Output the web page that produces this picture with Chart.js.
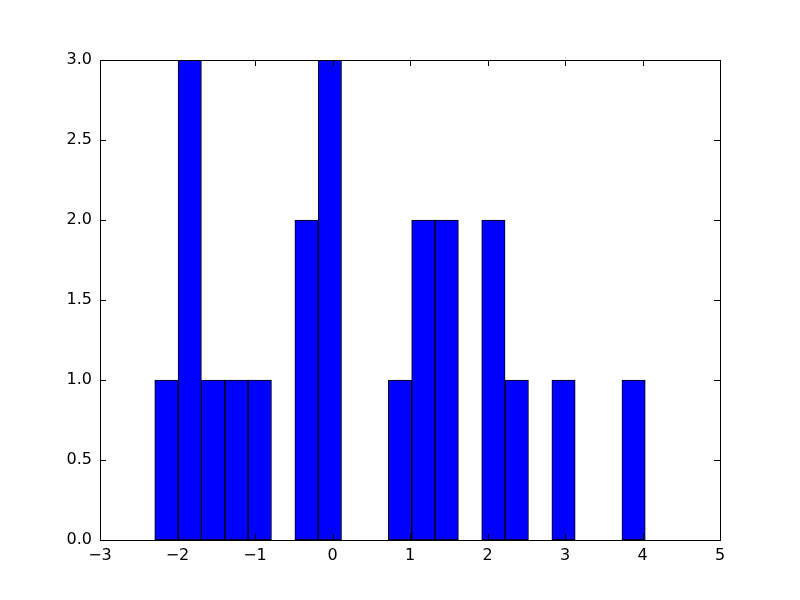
<!DOCTYPE html>
<html>
<head>
<meta charset="utf-8">
<script src="https://cdn.jsdelivr.net/npm/chart.js@4/dist/chart.umd.min.js"></script>
<style>
  html, body { margin: 0; padding: 0; background: #fff; }
  #wrap { width: 800px; height: 600px; }
</style>
</head>
<body>
<div id="wrap"><canvas id="histChart" width="800" height="600"></canvas></div>
<script>
// bin centres, one per histogram bin
const binCenters = [-2.143, -1.842, -1.541, -1.239, -0.938, -0.636, -0.335, -0.034,
  0.268, 0.569, 0.871, 1.172, 1.474, 1.775, 2.076, 2.378, 2.679, 2.981, 3.282, 3.584, 3.885];
const counts = [1, 3, 1, 1, 1, 0, 2, 3, 0, 0, 1, 2, 2, 0, 2, 1, 0, 1, 0, 0, 1];
const xTicks = [-3, -2, -1, 0, 1, 2, 3, 4, 5];
const yTicks = [0, 0.5, 1, 1.5, 2, 2.5, 3];

const FONT = { family: 'DejaVu Sans', size: 16 };

// matplotlib classic: frame + ticks pointing inward on all four sides
const frameTicks = {
    id: 'frameTicks',
    afterDraw(chart) {
        const { ctx, chartArea: a, scales } = chart;
        const len = 6;
        ctx.save();
        ctx.strokeStyle = '#000';
        ctx.lineWidth = 1;
        ctx.beginPath();
        xTicks.forEach(v => {
            const px = Math.round(scales.x.getPixelForValue(v)) + 0.5;
            ctx.moveTo(px, a.bottom); ctx.lineTo(px, a.bottom - len);
            ctx.moveTo(px, a.top); ctx.lineTo(px, a.top + len);
        });
        yTicks.forEach(v => {
            const py = Math.round(scales.y.getPixelForValue(v)) + 0.5;
            ctx.moveTo(a.left, py); ctx.lineTo(a.left + len, py);
            ctx.moveTo(a.right, py); ctx.lineTo(a.right - len, py);
        });
        ctx.stroke();
        ctx.strokeRect(Math.round(a.left) + 0.5, Math.round(a.top) + 0.5,
            Math.round(a.right - a.left), Math.round(a.bottom - a.top));
        ctx.restore();
    }
};

new Chart(document.getElementById('histChart').getContext('2d'), {
    type: 'bar',
    data: {
        datasets: [{
            data: binCenters.map((c, i) => ({ x: c, y: counts[i] })),
            backgroundColor: '#0000ff',
            borderColor: '#000000',
            borderWidth: 1,
            borderSkipped: false,
            barPercentage: 1,
            categoryPercentage: 1
        }]
    },
    options: {
        responsive: false,
        animation: false,
        layout: { padding: { top: 60, right: 80, left: 0, bottom: 0 } },
        plugins: { legend: { display: false }, tooltip: { enabled: false } },
        scales: {
            x: {
                type: 'linear',
                min: -3, max: 5,
                offset: false,
                grid: { display: false, drawTicks: false },
                border: { display: false },
                ticks: {
                    stepSize: 1, color: '#000', font: FONT, padding: 6,
                    maxRotation: 0,
                    callback: v => String(v).replace('-', '\u2212')
                },
                afterFit(s) { s.height = 60; }
            },
            y: {
                min: 0, max: 3,
                grid: { display: false, drawTicks: false },
                border: { display: false },
                ticks: {
                    stepSize: 0.5, color: '#000', font: FONT, padding: 8,
                    callback: v => v.toFixed(1)
                },
                afterFit(s) { s.width = 100; }
            }
        }
    },
    plugins: [frameTicks]
});
</script>
</body>
</html>
